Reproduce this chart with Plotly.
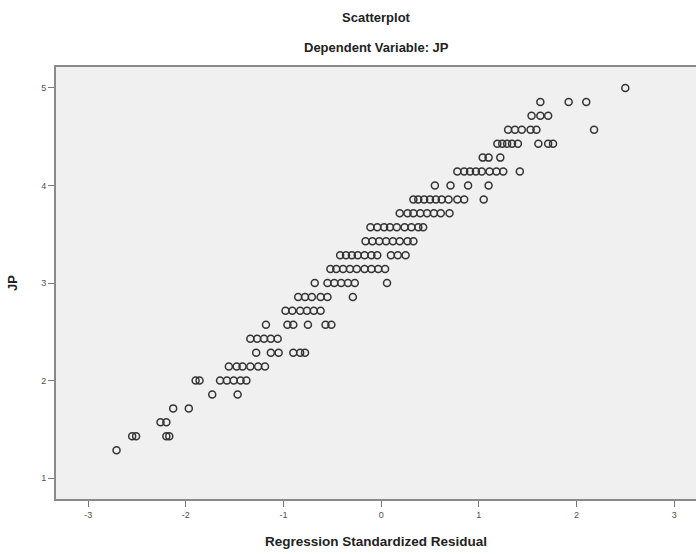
import plotly.graph_objects as go

# JP levels (average of 7 items) and standardized residuals read at each level
jp_levels = [9/7, 10/7, 11/7, 12/7, 13/7, 14/7, 15/7, 16/7, 17/7, 18/7, 19/7, 20/7,
             21/7, 22/7, 23/7, 24/7, 25/7, 26/7, 27/7, 28/7, 29/7, 30/7, 31/7, 32/7,
             33/7, 34/7, 35/7]

residuals_by_level = [
    [-2.71],
    [-2.55, -2.51, -2.20, -2.17],
    [-2.26, -2.20],
    [-2.13, -1.97],
    [-1.73, -1.47],
    [-1.90, -1.86, -1.65, -1.58, -1.51, -1.44, -1.38],
    [-1.56, -1.48, -1.42, -1.34, -1.26, -1.19],
    [-1.28, -1.13, -1.05, -0.90, -0.83, -0.78],
    [-1.34, -1.27, -1.20, -1.13, -1.06],
    [-1.18, -0.96, -0.90, -0.75, -0.57, -0.51],
    [-0.98, -0.91, -0.83, -0.76, -0.69, -0.62],
    [-0.85, -0.78, -0.71, -0.62, -0.55, -0.29],
    [-0.68, -0.55, -0.48, -0.41, -0.34, -0.27, 0.06],
    [-0.52, -0.46, -0.39, -0.32, -0.25, -0.17, -0.10, -0.03, 0.04],
    [-0.42, -0.36, -0.30, -0.24, -0.17, -0.10, -0.04, 0.10, 0.17, 0.25],
    [-0.16, -0.09, -0.02, 0.05, 0.12, 0.19, 0.27, 0.33],
    [-0.11, -0.04, 0.03, 0.09, 0.16, 0.24, 0.31, 0.38, 0.43],
    [0.19, 0.27, 0.33, 0.40, 0.47, 0.54, 0.61, 0.70],
    [0.33, 0.38, 0.44, 0.50, 0.56, 0.62, 0.69, 0.78, 0.85, 1.05],
    [0.55, 0.71, 0.89, 1.10],
    [0.78, 0.85, 0.91, 0.97, 1.03, 1.11, 1.18, 1.25, 1.42],
    [1.04, 1.10, 1.22],
    [1.19, 1.24, 1.29, 1.34, 1.40, 1.61, 1.71, 1.76],
    [1.30, 1.37, 1.44, 1.53, 1.59, 2.18],
    [1.54, 1.63, 1.71],
    [1.63, 1.92, 2.10],
    [2.50],
]

x_ticks = [-3, -2, -1, 0, 1, 2, 3]
y_ticks = [1, 2, 3, 4, 5]

xs, ys = [], []
for lvl, row in zip(jp_levels, residuals_by_level):
    for r in row:
        xs.append(r)
        ys.append(lvl)

fig = go.Figure()
fig.add_trace(go.Scatter(
    x=xs, y=ys, mode="markers",
    marker=dict(symbol="circle-open", size=7, color="#333333",
                line=dict(width=1.5, color="#333333")),
    showlegend=False, hoverinfo="x+y",
))

axis_font = dict(family="Liberation Sans, Arial, sans-serif", size=9, color="#505050")

fig.update_layout(
    width=696, height=554,
    margin=dict(l=56, r=0, t=67, b=55),
    paper_bgcolor="white",
    plot_bgcolor="#f0f0f0",
    font=dict(family="Liberation Sans, Arial, sans-serif", color="#222222"),
    annotations=[
        dict(text="<b>Scatterplot</b>", xref="paper", yref="paper", x=0.5, y=1,
             yshift=50, showarrow=False, font=dict(size=13, color="#222222"),
             xanchor="center", yanchor="middle"),
        dict(text="<b>Dependent Variable: JP</b>", xref="paper", yref="paper", x=0.5, y=1,
             yshift=20, showarrow=False, font=dict(size=13, color="#222222"),
             xanchor="center", yanchor="middle"),
    ],
)
fig.update_xaxes(
    range=[-3.33, 3.224], tickvals=x_ticks, ticktext=[str(v) for v in x_ticks],
    ticks="outside", ticklen=6, tickwidth=1, tickcolor="#777777",
    tickfont=axis_font, showgrid=False, zeroline=False,
    showline=True, linecolor="#8a8a8a", linewidth=2, mirror=True,
    title=dict(text="<b>Regression Standardized Residual</b>",
               font=dict(size=13.5, color="#222222"), standoff=18),
)
fig.update_yaxes(
    range=[0.785, 5.215], tickvals=y_ticks, ticktext=[str(v) for v in y_ticks],
    ticks="outside", ticklen=6, tickwidth=1, tickcolor="#777777",
    tickfont=axis_font, showgrid=False, zeroline=False,
    showline=True, linecolor="#8a8a8a", linewidth=2, mirror=False,
    title=dict(text="<b>JP</b>", font=dict(size=13, color="#222222"), standoff=21),
)

fig.write_html("out.html",
               config={"displayModeBar": False},
               post_script="document.body.style.margin='0';document.body.style.overflow='hidden';")
